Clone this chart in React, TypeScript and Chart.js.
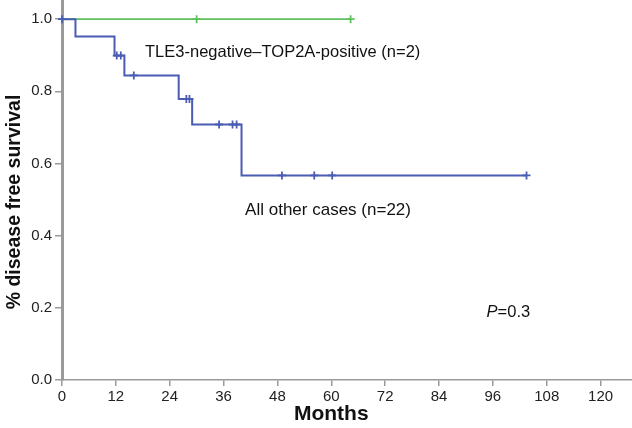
import React, { useEffect, useRef } from "react";
import { Chart, registerables } from "chart.js";

Chart.register(...registerables);

// Kaplan–Meier step points (time in months, survival proportion)
const otherTimes = [0, 3, 11.7, 13.9, 26, 29, 40, 103.5];
const otherSurv = [1.0, 0.952, 0.899, 0.844, 0.779, 0.708, 0.567, 0.567];
const otherCensor = [0, 12.2, 13.1, 16, 27.7, 28.4, 35, 38, 38.9, 49, 56.2, 60.2, 103.5];

const tleTimes = [0, 64.3];
const tleSurv = [1.0, 1.0];
const tleCensor = [30, 64.3];

const xTicks = [0, 12, 24, 36, 48, 60, 72, 84, 96, 108, 120];
const yTicks = [0.0, 0.2, 0.4, 0.6, 0.8, 1.0];

const labelTle = "TLE3-negative\u2013TOP2A-positive (n=2)";
const labelOther = "All other cases (n=22)";
const pLabel = "0.3";
const xTitle = "Months";
const yTitle = "% disease free survival";

function survAt(times: number[], surv: number[], t: number) {
  let v = surv[0];
  for (let i = 0; i < times.length; i++) if (times[i] <= t) v = surv[i];
  return v;
}

const BLUE = "#4a5cb4";
const GREEN = "#5cc25c";
const AXIS = "#9a9a9a";
const FONT = "'Liberation Sans', Arial, sans-serif";

export default function App() {
  const ref = useRef<HTMLCanvasElement | null>(null);
  useEffect(() => {
    if (!ref.current) return;
    const textPlugin = {
      id: "texts",
      afterDraw(chart: any) {
        const ctx = chart.ctx;
        const xs = chart.scales.x;
        const ys = chart.scales.y;
        ctx.save();
        ctx.fillStyle = "#111";
        ctx.textBaseline = "middle";
        ctx.textAlign = "left";
        ctx.font = `16.5px ${FONT}`;
        ctx.fillText(labelTle, xs.getPixelForValue(18.5), ys.getPixelForValue(0.909));
        ctx.font = `17px ${FONT}`;
        ctx.fillText(labelOther, xs.getPixelForValue(40.8), ys.getPixelForValue(0.471));
        const px = xs.getPixelForValue(94.6);
        const py = ys.getPixelForValue(0.188);
        ctx.font = `italic 16.5px ${FONT}`;
        ctx.fillText("P", px, py);
        const w = ctx.measureText("P").width;
        ctx.font = `16.5px ${FONT}`;
        ctx.fillText("=" + pLabel, px + w, py);
        // axis titles
        ctx.font = `bold 21px ${FONT}`;
        ctx.textAlign = "center";
        ctx.fillText(xTitle, xs.getPixelForValue(60), 414);
        ctx.translate(15, 202);
        ctx.rotate(-Math.PI / 2);
        ctx.font = `bold 19.5px ${FONT}`;
        ctx.fillText(yTitle, 0, 0);
        ctx.restore();
      },
    };

    const chart = new Chart(ref.current, {
      type: "scatter",
      data: {
        datasets: [
          {
            label: "other censor",
            data: otherCensor.map((t) => ({ x: t, y: survAt(otherTimes, otherSurv, t) })),
            showLine: false,
            pointStyle: "cross",
            pointRadius: 4,
            borderColor: BLUE,
            backgroundColor: BLUE,
            pointBorderWidth: 1.8,
            clip: false,
          },
          {
            label: "other",
            data: otherTimes.map((t, i) => ({ x: t, y: otherSurv[i] })),
            showLine: true,
            stepped: true,
            borderColor: BLUE,
            borderWidth: 2,
            pointRadius: 0,
            clip: false,
          },
          {
            label: "tle censor",
            data: tleCensor.map((t) => ({ x: t, y: survAt(tleTimes, tleSurv, t) })),
            showLine: false,
            pointStyle: "cross",
            pointRadius: 4,
            borderColor: GREEN,
            backgroundColor: GREEN,
            pointBorderWidth: 1.8,
            clip: false,
          },
          {
            label: "tle",
            data: tleTimes.map((t, i) => ({ x: t, y: tleSurv[i] })),
            showLine: true,
            stepped: true,
            borderColor: GREEN,
            borderWidth: 1.8,
            pointRadius: 0,
            clip: false,
          },
        ],
      },
      options: {
        animation: false,
        responsive: false,
        maintainAspectRatio: false,
        layout: { padding: 0, autoPadding: false },
        plugins: { legend: { display: false }, tooltip: { enabled: false } },
        scales: {
          x: {
            type: "linear",
            min: 0,
            max: 127,
            afterBuildTicks: (scale: any) => {
              scale.ticks = xTicks.map((v) => ({ value: v }));
            },
            afterFit: (scale: any) => {
              scale.height = 48;
              scale.paddingLeft = 0;
              scale.paddingRight = 0;
            },
            ticks: {
              color: "#222",
              font: { family: FONT, size: 15 },
              padding: 2,
              maxRotation: 0,
              autoSkip: false,
              callback: (v: any) => String(v),
            },
            grid: {
              drawOnChartArea: false,
              drawTicks: true,
              tickLength: 6,
              tickColor: AXIS,
              lineWidth: 1.5,
            },
            border: { display: true, color: AXIS, width: 1.5 },
          },
          y: {
            type: "linear",
            min: 0,
            max: 1.053,
            afterBuildTicks: (scale: any) => {
              scale.ticks = yTicks.map((v) => ({ value: v }));
            },
            afterFit: (scale: any) => {
              scale.width = 62;
              scale.paddingTop = 0;
              scale.paddingBottom = 0;
            },
            ticks: {
              color: "#222",
              font: { family: FONT, size: 15 },
              padding: 3,
              autoSkip: false,
              callback: (v: any) => Number(v).toFixed(1),
            },
            grid: {
              drawOnChartArea: false,
              drawTicks: true,
              tickLength: 7,
              tickColor: AXIS,
              lineWidth: 1.5,
            },
            border: { display: true, color: AXIS, width: 3 },
          },
        },
      },
      plugins: [textPlugin],
    } as any);
    return () => chart.destroy();
  }, []);
  return (
    <div style={{ position: "fixed", left: 0, top: 0, width: 632, height: 428, background: "#fff" }}>
      <canvas ref={ref} width={632} height={428} style={{ width: 632, height: 428 }} />
    </div>
  );
}
